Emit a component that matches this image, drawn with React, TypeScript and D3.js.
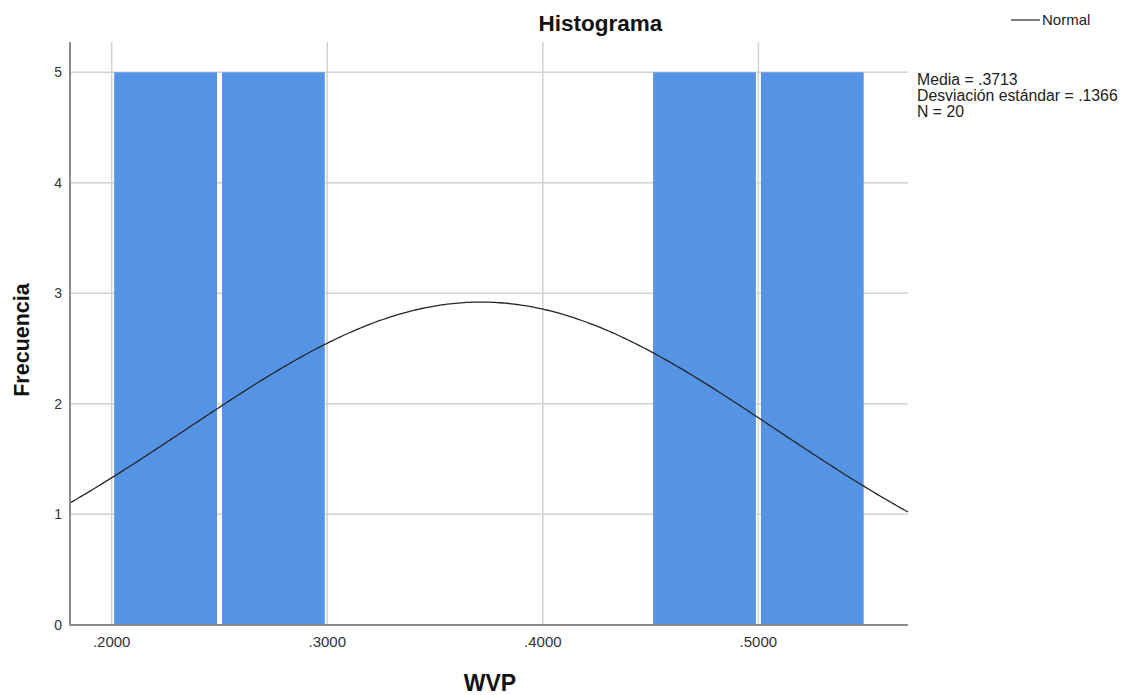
import React from "react";
import * as d3 from "d3";

// ---- data ----
const binStarts = [0.2, 0.25, 0.45, 0.5];
const binWidth = 0.05;
const binCounts = [5, 5, 5, 5];
const xTicks = [0.2, 0.3, 0.4, 0.5];
const xTickLabels = [".2000", ".3000", ".4000", ".5000"];
const yTicks = [0, 1, 2, 3, 4, 5];
const statMean = 0.3713;
const statSd = 0.1366;
const statN = 20;
const statLines = ["Media = .3713", "Desviación estándar = .1366", "N = 20"];
const titleText = "Histograma";
const xTitle = "WVP";
const yTitle = "Frecuencia";
const legendLabel = "Normal";

const W = 1126;
const H = 695;
const plot = { left: 70, right: 908, top: 42, bottom: 625 };

export default function App() {
  const x = d3.scaleLinear().domain([0.18066, 0.5694]).range([plot.left, plot.right]);
  const y = d3.scaleLinear().domain([0, 5]).range([624.8, 72.3]);

  const curveXs = d3.range(0, 301).map((i) => 0.18066 + (i / 300) * (0.5694 - 0.18066));
  const normal = (v: number) =>
    statN * binWidth * Math.exp(-0.5 * ((v - statMean) / statSd) ** 2) / (statSd * Math.sqrt(2 * Math.PI));
  const line = d3
    .line<number>()
    .x((d) => x(d))
    .y((d) => y(normal(d)))
    .curve(d3.curveLinear);

  const font = "'Liberation Sans', Arial, sans-serif";
  const inset = 2.5;

  return (
    <div style={{ position: "absolute", left: 0, top: 0 }}>
      <svg width={W} height={H} style={{ display: "block", background: "#fff" }}>
        {/* horizontal gridlines */}
        {yTicks.filter((t) => t > 0).map((t) => (
          <line key={"hg" + t} x1={plot.left} x2={plot.right} y1={y(t)} y2={y(t)} stroke="#d2d2d2" strokeWidth={1.5} />
        ))}
        {/* vertical gridlines */}
        {xTicks.map((t) => (
          <line key={"vg" + t} x1={x(t)} x2={x(t)} y1={plot.top} y2={plot.bottom} stroke="#d2d2d2" strokeWidth={1.5} />
        ))}
        {/* bars */}
        {binStarts.map((b, i) => (
          <rect
            key={"bar" + i}
            x={x(b) + inset}
            y={y(binCounts[i])}
            width={x(b + binWidth) - x(b) - 2 * inset}
            height={y(0) - y(binCounts[i])}
            fill="#5594e4"
          />
        ))}
        {/* normal curve */}
        <path d={line(curveXs) || ""} fill="none" stroke="#262626" strokeWidth={1.3} />
        {/* axes */}
        <line x1={plot.left} x2={plot.left} y1={plot.top} y2={plot.bottom + 0.8} stroke="#8c8c8c" strokeWidth={2} />
        <line x1={plot.left} x2={plot.right} y1={plot.bottom} y2={plot.bottom} stroke="#8c8c8c" strokeWidth={2} />
        {/* y tick labels */}
        {yTicks.map((t) => (
          <text key={"yl" + t} x={62} y={y(t) + 5} textAnchor="end" fontFamily={font} fontSize={14} fill="#333">
            {t}
          </text>
        ))}
        {/* x tick labels */}
        {xTicks.map((t, i) => (
          <text key={"xl" + t} x={x(t)} y={647} textAnchor="middle" fontFamily={font} fontSize={15} fill="#333">
            {xTickLabels[i]}
          </text>
        ))}
        {/* titles */}
        <text x={600.5} y={31} textAnchor="middle" fontFamily={font} fontSize={22.5} fontWeight="bold" fill="#111">
          {titleText}
        </text>
        <text x={490} y={691} textAnchor="middle" fontFamily={font} fontSize={23} fontWeight="bold" fill="#111">
          {xTitle}
        </text>
        <text
          transform={`translate(29, 340) rotate(-90)`}
          textAnchor="middle"
          fontFamily={font}
          fontSize={21.5}
          fontWeight="bold"
          fill="#111"
        >
          {yTitle}
        </text>
        {/* legend */}
        <line x1={1011} x2={1040} y1={20} y2={20} stroke="#333" strokeWidth={1.3} />
        <text x={1042} y={25} fontFamily={font} fontSize={15} fill="#222">
          {legendLabel}
        </text>
        {/* stats */}
        {statLines.map((s, i) => (
          <text key={"st" + i} x={917} y={85 + i * 16} fontFamily={font} fontSize={15.8} fill="#222">
            {s}
          </text>
        ))}
      </svg>
    </div>
  );
}
